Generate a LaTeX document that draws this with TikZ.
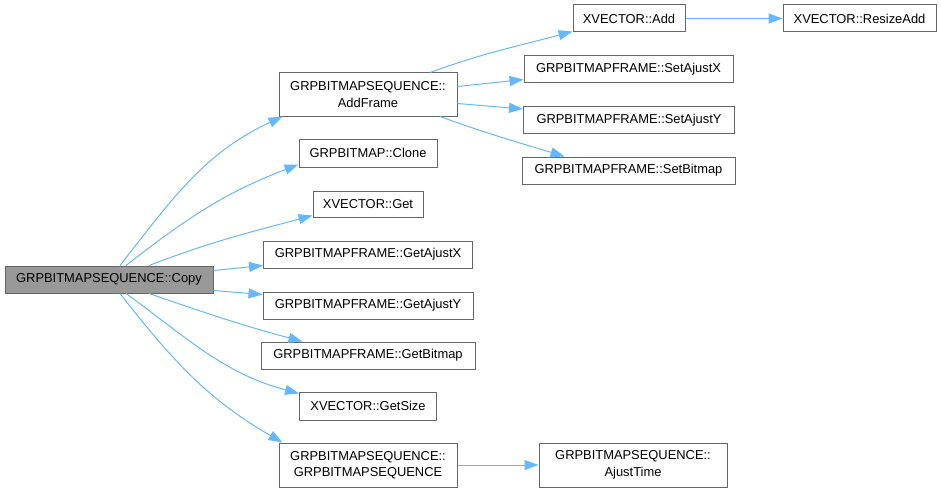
\documentclass[tikz,border=0pt]{standalone}
\usepackage{fontspec}
\setmainfont{Liberation Sans}
\usetikzlibrary{arrows.meta,calc}
\definecolor{edgeblue}{HTML}{63B8FF}
\definecolor{boxgray}{HTML}{666666}
\definecolor{rootgray}{HTML}{999999}

\begin{document}
\begin{tikzpicture}[x=1pt, y=1pt, >={Triangle[length=14pt,width=10pt]},
	   font=\fontsize{12.9}{16.5}\selectfont,
	   b/.style={draw=boxgray, fill=white, line width=1pt, inner sep=0pt, minimum height=27pt, align=center},
	   e/.style={->, draw=edgeblue, line width=1pt}]
	  \useasboundingbox (0,0) rectangle (941,-492);
	  % root
	  \node[b, fill=rootgray, minimum width=208pt] (copy) at (109,-279.5) {GRPBITMAPSEQUENCE::Copy};
	  % callees of Copy
	  \node[b, minimum width=178pt, minimum height=43pt] (af) at (368,-94.5) {GRPBITMAPSEQUENCE::\\ AddFrame};
	  \node[b, minimum width=138pt, minimum height=28pt] (clone) at (368,-153) {GRPBITMAP::Clone};
	  \node[b, minimum width=110pt, minimum height=26pt] (get) at (368,-204) {XVECTOR::Get};
	  \node[b, minimum width=209pt] (gax) at (368,-254.5) {GRPBITMAPFRAME::GetAjustX};
	  \node[b, minimum width=210pt] (gay) at (368,-305.5) {GRPBITMAPFRAME::GetAjustY};
	  \node[b, minimum width=214pt] (gbm) at (368,-355.5) {GRPBITMAPFRAME::GetBitmap};
	  \node[b, minimum width=137pt, minimum height=28pt] (size) at (368,-406) {XVECTOR::GetSize};
	  \node[b, minimum width=178pt, minimum height=44pt] (ctor) at (368,-465) {GRPBITMAPSEQUENCE::\\ GRPBITMAPSEQUENCE};
	  % callees of AddFrame and the constructor
	  \node[b, minimum width=112pt] (add) at (629,-18.5) {XVECTOR::Add};
	  \node[b, minimum width=153pt] (resize) at (859.5,-18.5) {XVECTOR::ResizeAdd};
	  \node[b, minimum width=209pt] (sax) at (628.5,-69.5) {GRPBITMAPFRAME::SetAjustX};
	  \node[b, minimum width=211pt, minimum height=26pt] (say) at (629,-120) {GRPBITMAPFRAME::SetAjustY};
	  \node[b, minimum width=213pt] (sbm) at (628.5,-170.5) {GRPBITMAPFRAME::SetBitmap};
	  \node[b, minimum width=188pt, minimum height=44pt] (ajt) at (633,-465) {GRPBITMAPSEQUENCE::\\ AjustTime};

	  \draw[e] ($(copy.north)+(11,0)$) to[out=52,in=205] ($(af.south west)+(4,0)$);
	  \draw[e] ($(copy.north)+(17,0)$) to[out=38,in=201] ($(clone.south west)+(0,3)$);
	  \draw[e] ($(copy.north)+(40,0)$) to[out=21,in=195] ($(get.south west)+(0,2)$);
	  \draw[e] ($(copy.east)+(0,9)$) -- ($(gax.west)+(0,-11)$);
	  \draw[e] ($(copy.east)+(0,-11)$) -- ($(gay.west)+(0,11)$);
	  \draw[e] ($(copy.south)+(40,0)$) to[out=-19,in=165] ($(gbm.north west)+(42,0)$);
	  \draw[e] ($(copy.south)+(17,0)$) to[out=-36,in=165] ($(size.north west)+(0,-2)$);
	  \draw[e] ($(copy.south)+(11,0)$) to[out=-52,in=150] ($(ctor.north west)+(4,0)$);

	  \draw[e] ($(af.north)+(62,0)$) to[out=20,in=195] ($(add.south west)+(0,1)$);
	  \draw[e] ($(af.east)+(0,8)$) -- ($(sax.west)+(0,-10)$);
	  \draw[e] ($(af.east)+(0,-9)$) -- ($(say.west)+(0,11)$);
	  \draw[e] ($(af.south)+(72,0)$) to[out=-20,in=163] ($(sbm.north west)+(43,0)$);
	  \draw[e] (add) -- (resize);
	  \draw[e] (ctor) -- (ajt);
	\end{tikzpicture}
\end{document}
